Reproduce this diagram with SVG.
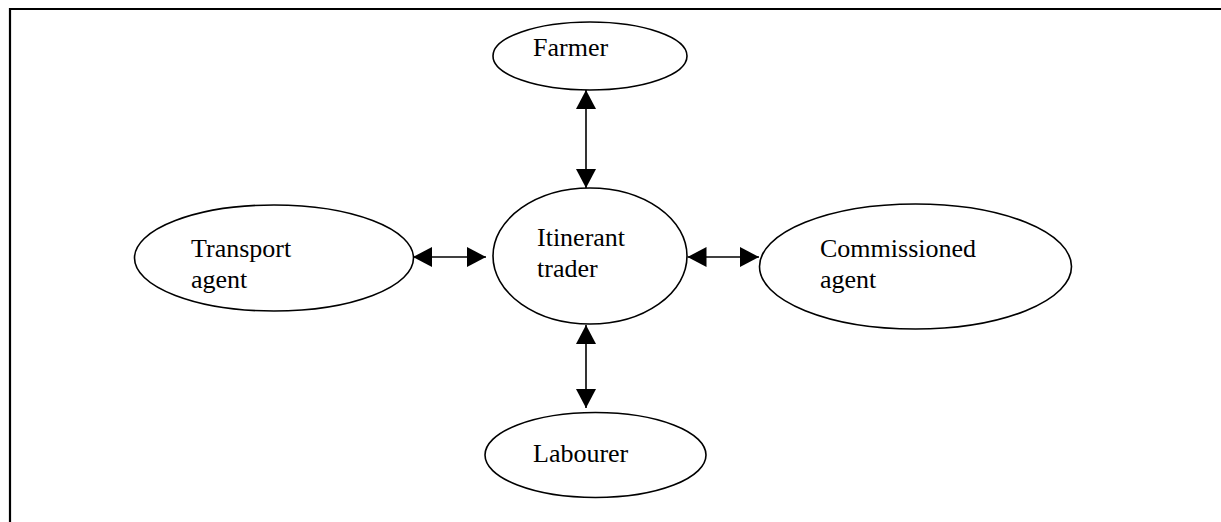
<svg xmlns="http://www.w3.org/2000/svg" width="1221" height="522" viewBox="0 0 1221 522">
  <style>
    .node ellipse { fill: #ffffff; stroke: #000000; stroke-width: 1.6; }
    .node text { font-family: "Liberation Serif", "Times New Roman", serif; font-size: 26px; fill: #000000; }
    .link { stroke: #000000; stroke-width: 1.6; fill: none; marker-start: url(#head); marker-end: url(#head); }
  </style>
  <defs>
    <marker id="head" markerUnits="userSpaceOnUse" markerWidth="19" markerHeight="20" viewBox="0 0 19 20" refX="19" refY="10" orient="auto-start-reverse">
      <path d="M0,0 L19,10 L0,20 Z" fill="#000000"/>
    </marker>
  </defs>

  <rect width="1221" height="522" fill="#ffffff"/>
  <!-- outer frame, open at right and bottom -->
  <path d="M10,522 L10,9 L1221,9" fill="none" stroke="#000000" stroke-width="2.2"/>

  <g id="connectors">
    <line class="link" x1="586" y1="90" x2="586" y2="188"/>
    <line class="link" x1="586" y1="325" x2="586" y2="408"/>
    <line class="link" x1="413" y1="257" x2="486" y2="257"/>
    <line class="link" x1="687.5" y1="257" x2="759" y2="257"/>
  </g>

  <g id="farmer" class="node">
    <ellipse cx="590" cy="56" rx="97" ry="34"/>
    <text x="533" y="56">Farmer</text>
  </g>

  <g id="itinerant-trader" class="node">
    <ellipse cx="590" cy="256" rx="97" ry="68"/>
    <text x="537" y="246">Itinerant</text>
    <text x="537" y="277">trader</text>
  </g>

  <g id="transport-agent" class="node">
    <ellipse cx="274" cy="258" rx="139.5" ry="53"/>
    <text x="191" y="256.5">Transport</text>
    <text x="191" y="288">agent</text>
  </g>

  <g id="commissioned-agent" class="node">
    <ellipse cx="915.5" cy="266.5" rx="156" ry="62.5"/>
    <text x="820" y="257">Commissioned</text>
    <text x="820" y="288">agent</text>
  </g>

  <g id="labourer" class="node">
    <ellipse cx="595.5" cy="455" rx="110.5" ry="42.5"/>
    <text x="533" y="461.5">Labourer</text>
  </g>
</svg>
